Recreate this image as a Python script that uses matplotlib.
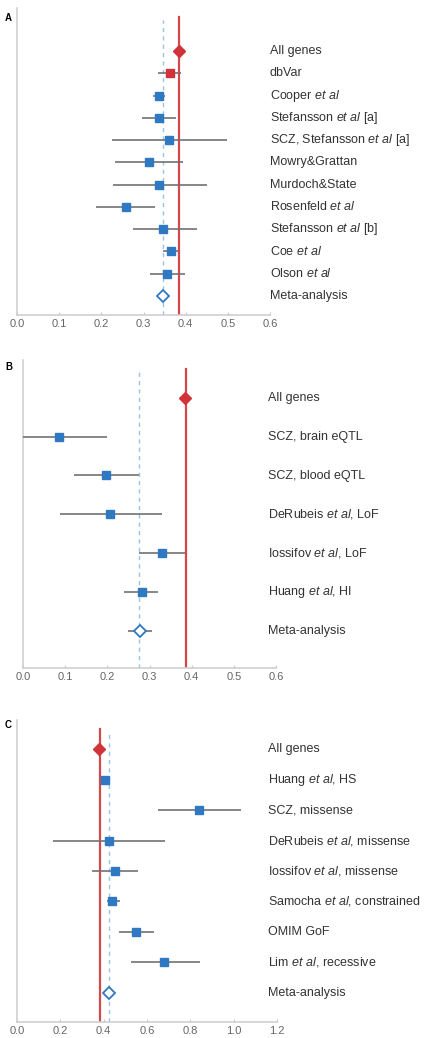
import numpy as np
import matplotlib
matplotlib.use('Agg')
import matplotlib.pyplot as plt
from matplotlib.transforms import blended_transform_factory

plt.rcParams['font.family'] = ['Liberation Sans', 'DejaVu Sans']
plt.rcParams['mathtext.fontset'] = 'custom'
plt.rcParams['mathtext.rm'] = 'Liberation Sans'
plt.rcParams['mathtext.it'] = 'Liberation Sans:italic'

# panel A
labels_a = ['All genes', 'dbVar', r'Cooper $\mathit{et\ al}$', r'Stefansson $\mathit{et\ al}$ [a]',
            r'SCZ, Stefansson $\mathit{et\ al}$ [a]', 'Mowry&Grattan', 'Murdoch&State',
            r'Rosenfeld $\mathit{et\ al}$', r'Stefansson $\mathit{et\ al}$ [b]', r'Coe $\mathit{et\ al}$',
            r'Olson $\mathit{et\ al}$', 'Meta-analysis']
est_a = [0.385, 0.363, 0.337, 0.337, 0.361, 0.312, 0.337, 0.258, 0.347, 0.365, 0.356, 0.347]
lo_a = [0.385, 0.335, 0.323, 0.296, 0.225, 0.232, 0.227, 0.187, 0.274, 0.347, 0.316, 0.340]
hi_a = [0.385, 0.390, 0.351, 0.378, 0.499, 0.394, 0.450, 0.328, 0.426, 0.384, 0.398, 0.354]
ref_a = 0.384
meta_a = 0.347
xticks_a = [0.0, 0.1, 0.2, 0.3, 0.4, 0.5, 0.6]

# panel B
labels_b = ['All genes', 'SCZ, brain eQTL', 'SCZ, blood eQTL', r'DeRubeis $\mathit{et\ al}$, LoF',
            r'Iossifov $\mathit{et\ al}$, LoF', r'Huang $\mathit{et\ al}$, HI', 'Meta-analysis']
est_b = [0.384, 0.085, 0.197, 0.206, 0.329, 0.282, 0.277]
lo_b = [0.384, 0.000, 0.121, 0.088, 0.275, 0.240, 0.249]
hi_b = [0.384, 0.199, 0.275, 0.329, 0.384, 0.320, 0.306]
ref_b = 0.386
meta_b = 0.275
xticks_b = [0.0, 0.1, 0.2, 0.3, 0.4, 0.5, 0.6]

# panel C
labels_c = ['All genes', r'Huang $\mathit{et\ al}$, HS', 'SCZ, missense',
            r'DeRubeis $\mathit{et\ al}$, missense', r'Iossifov $\mathit{et\ al}$, missense',
            r'Samocha $\mathit{et\ al}$, constrained', 'OMIM GoF',
            r'Lim $\mathit{et\ al}$, recessive', 'Meta-analysis']
est_c = [0.380, 0.406, 0.840, 0.426, 0.452, 0.440, 0.549, 0.680, 0.426]
lo_c = [0.380, 0.406, 0.650, 0.168, 0.347, 0.417, 0.470, 0.524, 0.426]
hi_c = [0.380, 0.406, 1.034, 0.683, 0.560, 0.475, 0.634, 0.844, 0.426]
ref_c = 0.383
meta_c = 0.426
xticks_c = [0.0, 0.2, 0.4, 0.6, 0.8, 1.0, 1.2]

RED = '#d0343a'
BLUE = '#2f78c2'
GREY = '#727272'

fig = plt.figure(figsize=(4.32, 10.38), dpi=100)


def forest(rect, letter, letter_y, labels, est, lo, hi, ref, meta, xticks, pad_top, pad_bot, text_x):
    ax = fig.add_axes(rect)
    n = len(labels)
    y = np.arange(n)
    ax.hlines(y, lo, hi, color=GREY, lw=1.2, zorder=3)
    for yi, lab, e in zip(y, labels, est):
        if lab == 'All genes':
            ax.plot(e, yi, marker='D', ms=6, color=RED, mec=RED, zorder=4)
        elif lab == 'Meta-analysis':
            ax.plot(e, yi, marker='D', ms=6, mfc='white', mec=BLUE, mew=1.3, zorder=4)
        elif lab == 'dbVar':
            ax.plot(e, yi, marker='s', ms=6, color=RED, zorder=4)
        else:
            ax.plot(e, yi, marker='s', ms=6, color=BLUE, zorder=4)
    ax.axvline(ref, ymin=0, ymax=0.97, color=RED, lw=1.6, alpha=0.9, zorder=2)
    ax.axvline(meta, ymin=0, ymax=0.96, color='#9cc3e6', lw=1.0, ls=(0, (3, 3)), zorder=1)
    ax.set_xlim(xticks[0], xticks[-1])
    ax.set_ylim(n - 1 + pad_bot, -pad_top)
    ax.set_xticks(xticks)
    ax.set_xticklabels(['%.1f' % t for t in xticks])
    ax.set_yticks([])
    for s in ['top', 'right']:
        ax.spines[s].set_visible(False)
    for s in ['left', 'bottom']:
        ax.spines[s].set_color('#cfcfcf')
        ax.spines[s].set_linewidth(1.2)
    ax.tick_params(axis='x', direction='in', length=2.5, width=0.8, color='#c8c8c8',
                   labelsize=8, labelcolor='#666666', pad=3)
    tr = blended_transform_factory(fig.transFigure, ax.transData)
    for yi, lab in zip(y, labels):
        ax.text(text_x, yi, lab, transform=tr, fontsize=9, color='#333333',
                va='center', ha='left')
    fig.text(5 / 432, 1 - letter_y / 1038, letter, fontsize=7, fontweight='bold',
             va='center', ha='left')
    return ax


forest([17 / 432, 1 - 315 / 1038, 253 / 432, 307 / 1038], 'A', 18,
       labels_a, est_a, lo_a, hi_a, ref_a, meta_a, xticks_a, 1.94, 0.86, 270 / 432)
forest([23 / 432, 1 - 668 / 1038, 253 / 432, 308 / 1038], 'B', 367,
       labels_b, est_b, lo_b, hi_b, ref_b, meta_b, xticks_b, 0.97, 0.95, 268 / 432)
forest([17 / 432, 1 - 1022 / 1038, 260 / 432, 302 / 1038], 'C', 725,
       labels_c, est_c, lo_c, hi_c, ref_c, meta_c, xticks_c, 0.97, 0.97, 268 / 432)

fig.savefig('out.png', dpi=100)
